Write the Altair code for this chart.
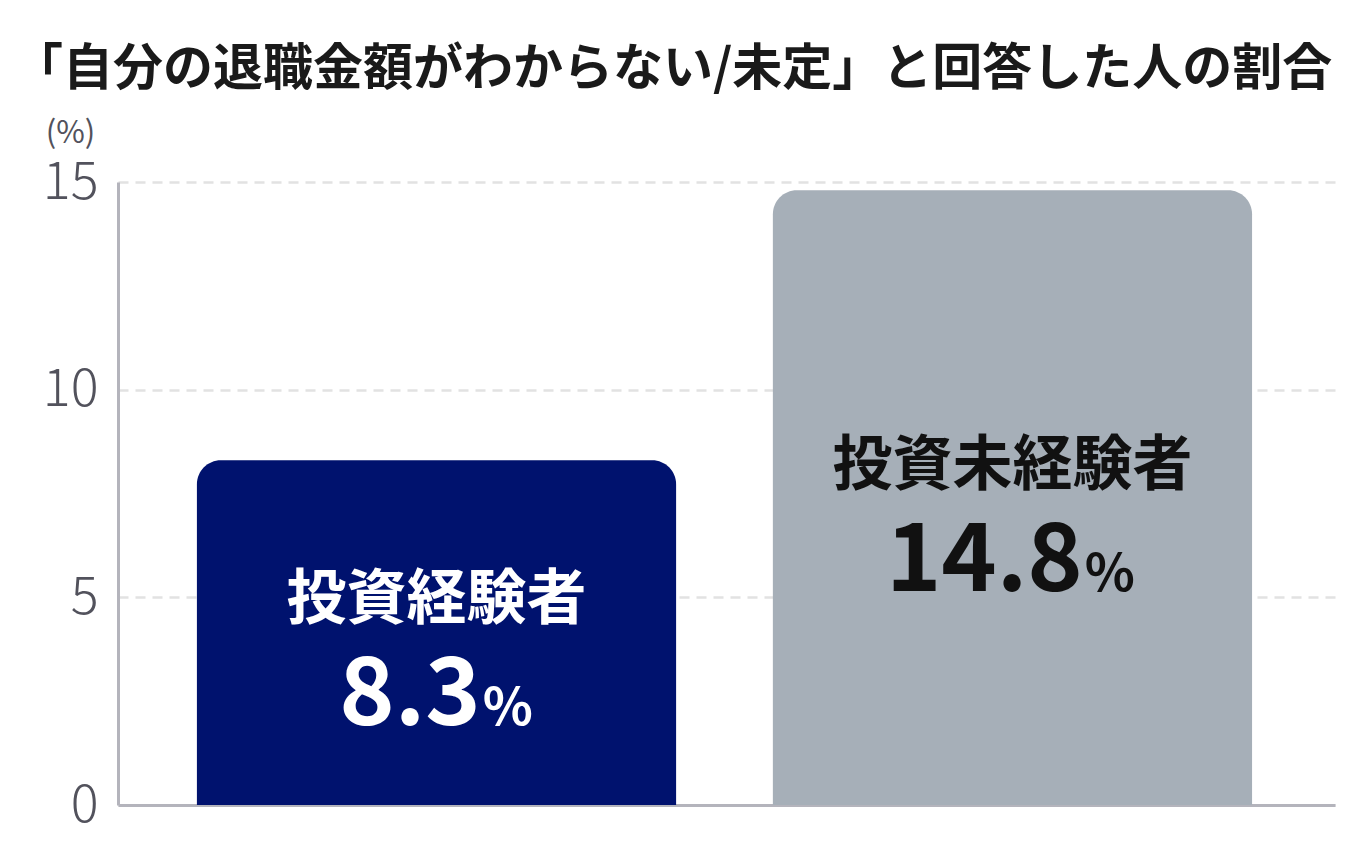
import altair as alt
import pandas as pd

title_text = "「自分の退職金額がわからない/未定」と回答した人の割合"
categories = ["投資経験者", "投資未経験者"]
values = [8.3, 14.8]
value_labels = ["8.3", "14.8"]
y_ticks = [0, 5, 10, 15]
unit_label = "(%)"
bar_colors = ["#00126e", "#a6afb8"]
text_colors = ["#ffffff", "#111111"]

df = pd.DataFrame({
    "category": categories,
    "idx": list(range(len(categories))),
    "value": values,
    "value_label": value_labels,
})

FONT = "Noto Sans CJK JP"
PLOT_W, PLOT_H = 1217, 623
NAME_SIZE = 60
NUM_SIZE = 94
PCT_SIZE = 52
X_DOMAIN = [-0.553, 1.560]
BAR_HALF = 0.416
PX_PER_UNIT = PLOT_W / (X_DOMAIN[1] - X_DOMAIN[0])

axis_color = "#b4b4bc"
tick_color = "#52525c"

x_scale = alt.Scale(domain=X_DOMAIN, nice=False, zero=False)
x_axis = alt.Axis(labels=False, ticks=False, title=None, grid=False,
                  domainColor=axis_color, domainWidth=3)
y_scale = alt.Scale(domain=[0, 15], nice=False)
y_axis = alt.Axis(
    values=y_ticks, title=unit_label, titleAngle=0, titleX=-48, titleY=-49,
    titleAlign="center", titleBaseline="middle", titleFont=FONT, titleFontSize=31,
    titleFontWeight="normal", titleColor=tick_color,
    labelFont=FONT, labelFontSize=52, labelFontWeight=300, labelColor=tick_color,
    labelPadding=20, ticks=False, domainColor=axis_color, domainWidth=3,
    grid=True, gridColor="#e2e2e2", gridDash=[10, 7], gridWidth=2.5,
)

def X(field):
    return alt.X(field, type="quantitative", scale=x_scale, axis=x_axis)

def Y(field):
    return alt.Y(field, type="quantitative", scale=y_scale, axis=y_axis)

text_color = alt.Color("category:N", scale=alt.Scale(domain=categories, range=text_colors), legend=None)

base = alt.Chart(df).transform_calculate(
    x0=f"datum.idx - {BAR_HALF}",
    x1=f"datum.idx + {BAR_HALF}",
    base_y="0",
    label_y="0.5 * datum.value + 0.75",
    num_w=f"(length(datum.value_label) - 1) * {0.555 * NUM_SIZE} + {0.3 * NUM_SIZE}",
    num_x=f"datum.idx + (datum.num_w / 2 - 22) / {PX_PER_UNIT}",
    pct_x=f"datum.idx + (datum.num_w / 2 - 20) / {PX_PER_UNIT}",
    pct="'%'",
)

bars = base.mark_bar(cornerRadiusTopLeft=24, cornerRadiusTopRight=24).encode(
    x=X("x0"),
    x2="x1:Q",
    y=Y("value"),
    y2="base_y:Q",
    color=alt.Color("category:N", scale=alt.Scale(domain=categories, range=bar_colors), legend=None),
)

name_text = base.mark_text(
    font=FONT, fontSize=NAME_SIZE, fontWeight="bold", baseline="middle", align="center"
).encode(x=X("idx"), y=Y("label_y"), text="category:N", color=text_color)

num_text = base.mark_text(
    font=FONT, fontSize=NUM_SIZE, fontWeight="bold", baseline="alphabetic", align="right", dy=124
).encode(x=X("num_x"), y=Y("label_y"), text="value_label:N", color=text_color)

pct_text = base.mark_text(
    font=FONT, fontSize=PCT_SIZE, fontWeight="bold", baseline="alphabetic", align="left", dy=124
).encode(x=X("pct_x"), y=Y("label_y"), text="pct:N", color=text_color)

chart = alt.layer(bars, name_text, num_text, pct_text).resolve_scale(
    color="independent"
).properties(
    width=PLOT_W,
    height=PLOT_H,
    title=alt.TitleParams(
        title_text, anchor="start", frame="group", font=FONT, fontSize=50,
        fontWeight="bold", color="#1a1a1a", dx=-105, offset=22,
    ),
    autosize=alt.AutoSizeParams(type="none"),
    padding={"left": 118, "top": 182, "right": 37, "bottom": 59},
).configure_view(stroke=None)

chart.save("out.html", embed_options={"renderer": "svg", "actions": False})
